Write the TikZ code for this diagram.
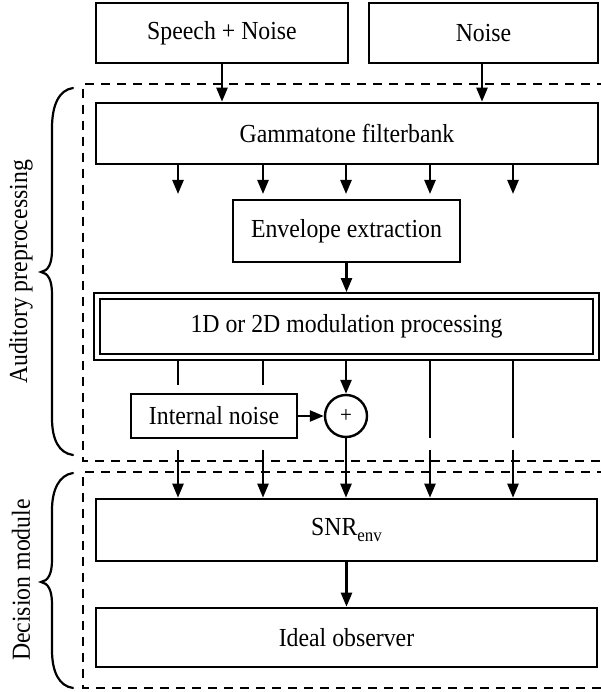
\documentclass[tikz,border=0pt]{standalone}
\usepackage{fontspec}
\setmainfont{Liberation Serif}[FakeStretch=0.915]
\usetikzlibrary{arrows.meta}
\begin{document}
\begin{tikzpicture}[x=1pt,y=-1pt,
  font=\fontsize{26}{30}\selectfont,
  box/.style={draw, line width=2.6pt, inner sep=0pt, align=center},
  arr/.style={line width=2.4pt, -{Triangle[length=14pt,width=11pt]}},
  wire/.style={line width=2.4pt},
  region/.style={line width=1.4pt, dash pattern=on 9pt off 7pt},
  curly/.style={line width=2.2pt, line cap=round}]
\useasboundingbox (0,0) rectangle (601,692);

% dashed regions (open on the right)
\draw[region] (606,84) -- (83,84) -- (83,461) -- (606,461);
\draw[region] (606,472) -- (83,472) -- (83,688) -- (606,688);

% input boxes
\node[box, minimum width=252pt, minimum height=60pt] (sn) at (222,33) {Speech + Noise};
\node[box, minimum width=229pt, minimum height=60pt] (nz) at (483.5,33) {Noise};

% processing chain
\node[box, minimum width=502pt, minimum height=61pt] (gt) at (347,133.5) {Gammatone filterbank};
\node[box, minimum width=227pt, minimum height=62pt] (env) at (346.5,231) {Envelope extraction};
\node[draw, line width=1.8pt, double, double distance=3.6pt, inner sep=0pt,
      minimum width=499pt, minimum height=61pt] (mod) at (346.5,326.5) {1D or 2D modulation processing};
\node[box, minimum width=166pt, minimum height=44pt] (inoise) at (214,416) {Internal noise};
\node[draw, circle, line width=2.4pt, minimum size=42pt, inner sep=0pt,
      font=\fontsize{23}{23}\selectfont] (sum) at (346,416) {+};
\node[box, minimum width=501pt, minimum height=62pt] (snr) at (346.5,530)
  {SNR\raisebox{-0.45ex}{\fontsize{18.5}{18.5}\selectfont env}};
\node[box, minimum width=501pt, minimum height=59pt] (obs) at (346.5,637.5) {Ideal observer};

% inputs into the filterbank
\draw[arr] (sn.south) -- (sn.south |- gt.north);
\draw[arr] (482,63) coordinate (nzout) -- (nzout |- gt.north);

% filterbank outputs
\foreach \x/\n in {178/a,263/b,346/c,430/d,513/e}{
  \coordinate (gt\n) at (\x,164);
  \coordinate (gte\n) at (\x,194);
  \draw[arr] (gt\n) -- (gte\n);
}

% envelope into modulation stage
\draw[arr, shorten >=3pt] (env.south) -- (env.south |- mod.north);

% modulation outputs
\foreach \x/\n/\y in {178/a/385,263/b/385,430/d/438,513/e/438}{
  \coordinate (mo\n) at (\x,360);
  \coordinate (mb\n) at (\x,\y);
  \draw[wire] (mo\n) -- (mb\n);
  \coordinate (ms\n) at (\x,450);
  \draw[arr] (ms\n) -- (ms\n |- snr.north);
}
\draw[arr] (346,360) coordinate (moc) -- (sum.north);
\draw[arr] (inoise.east) -- (sum.west);
\draw[arr] (sum.south) -- (sum.south |- snr.north);

% decision
\draw[arr] (snr.south) -- (snr.south |- obs.north);

% braces with labels
\draw[curly] (73,88) .. controls (59,90) and (52,105) .. (52,128) -- (52,250)
  .. controls (52,264) and (48,271) .. (41,272)
  .. controls (48,273) and (52,280) .. (52,294) -- (52,418)
  .. controls (52,440) and (59,453) .. (73,455);
\draw[curly] (73,473) .. controls (59,475) and (52,490) .. (52,510) -- (52,560)
  .. controls (52,574) and (48,581) .. (41,582)
  .. controls (48,583) and (52,590) .. (52,604) -- (52,650)
  .. controls (52,672) and (59,686) .. (73,688);
\node[rotate=90] (lab1) at (21,272) {Auditory preprocessing};
\node[rotate=90] (lab2) at (21,580) {Decision module};
\end{tikzpicture}
\end{document}
